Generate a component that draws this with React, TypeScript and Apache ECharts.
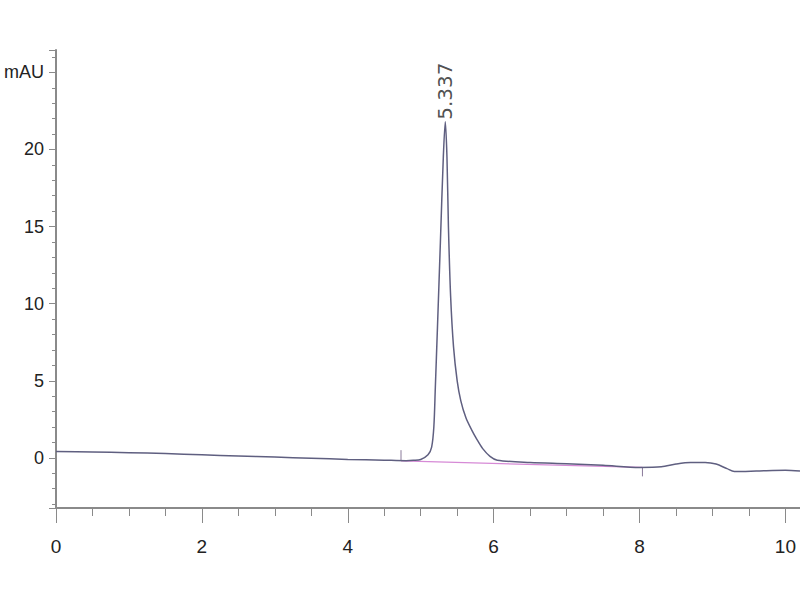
import React, { useEffect, useRef } from "react";
import * as echarts from "echarts";

const retentionTimes = [0, 0.5, 1, 1.5, 2, 2.5, 3, 3.5, 4, 4.5, 4.8, 4.9, 5.0, 5.1, 5.15, 5.18, 5.2, 5.23, 5.27, 5.31, 5.337, 5.36, 5.38, 5.41, 5.45, 5.5, 5.55, 5.62, 5.7, 5.77, 5.85, 5.95, 6.05, 6.5, 7, 7.5, 8, 8.3, 8.5, 8.7, 8.9, 9.05, 9.2, 9.3, 9.6, 10, 10.2];
const absorbance = [0.42, 0.38, 0.34, 0.28, 0.2, 0.12, 0.05, -0.02, -0.1, -0.15, -0.18, -0.16, -0.1, 0.2, 0.7, 2.0, 4.5, 8.5, 14, 19.5, 21.8, 19.5, 15, 10.5, 7.2, 5.0, 3.7, 2.6, 1.8, 1.2, 0.6, 0.1, -0.15, -0.3, -0.38, -0.48, -0.62, -0.58, -0.4, -0.3, -0.3, -0.4, -0.7, -0.88, -0.85, -0.8, -0.85];

const peakTime = 5.337;
const peakHeight = 21.8;
const peakLabel = "5.337";

const integrationStart = [4.73, -0.2];
const integrationEnd = [8.04, -0.62];
const startMarker = [[4.73, 0.5], [4.73, -0.2]];
const endMarker = [[8.04, -0.62], [8.04, -1.2]];

const xTickLabels = ["0", "2", "4", "6", "8", "10"];
const yTickLabels: Record<number, string> = { 0: "0", 5: "5", 10: "10", 15: "15", 20: "20", 25: "mAU" };

export default function App() {
  const ref = useRef<HTMLDivElement>(null);
  useEffect(() => {
    if (!ref.current) return;
    const chart = echarts.init(ref.current, null, { renderer: "svg" });
    const trace = retentionTimes.map((t, i) => [t, absorbance[i]]);
    const axisColor = "#8a8a8a";
    const font = "'Liberation Sans', Arial, sans-serif";
    chart.setOption({
      animation: false,
      backgroundColor: "#ffffff",
      grid: { left: 56, right: 0, top: 50, bottom: 92, containLabel: false, outerBoundsMode: "none" },
      xAxis: {
        type: "value",
        min: 0,
        max: 10.2,
        interval: 2,
        axisLine: { show: true, onZero: false, lineStyle: { color: axisColor, width: 2 } },
        axisTick: { show: true, length: 15, lineStyle: { color: axisColor, width: 1 } },
        minorTick: { show: true, splitNumber: 4, length: 8, lineStyle: { color: axisColor, width: 1 } },
        splitLine: { show: false },
        axisLabel: {
          color: "#222",
          fontFamily: font,
          fontSize: 19,
          margin: 29,
          showMaxLabel: false,
          formatter: (v: number) => {
            const s = String(Math.round(v));
            return xTickLabels.includes(s) && Math.abs(v - Math.round(v)) < 1e-6 ? s : "";
          },
        },
      },
      yAxis: {
        type: "value",
        min: -3.25,
        max: 26.45,
        splitNumber: 6,
        axisLine: { show: true, onZero: false, lineStyle: { color: axisColor, width: 2 } },
        axisTick: { show: true, length: 7, lineStyle: { color: axisColor, width: 1 } },
        minorTick: { show: true, splitNumber: 5, length: 4, lineStyle: { color: axisColor, width: 1 } },
        splitLine: { show: false },
        axisLabel: {
          color: "#222",
          fontFamily: font,
          fontSize: 18,
          margin: 12,
          showMinLabel: false,
          showMaxLabel: false,
          formatter: (v: number) => {
            const r = Math.round(v);
            if (Math.abs(v - r) > 1e-6) return "";
            return yTickLabels[r] ?? "";
          },
        },
      },
      series: [
        {
          type: "line",
          data: [integrationStart, integrationEnd],
          symbol: "none",
          lineStyle: { color: "#d68ad6", width: 1.2 },
          z: 1,
        },
        {
          type: "line",
          data: trace,
          symbol: "none",
          smooth: 0.3,
          lineStyle: { color: "#5f5f80", width: 1.5 },
          z: 3,
        },
        {
          type: "line",
          data: startMarker,
          symbol: "none",
          lineStyle: { color: "#8a7a9a", width: 1 },
          z: 2,
        },
        {
          type: "line",
          data: endMarker,
          symbol: "none",
          lineStyle: { color: "#8a7a9a", width: 1 },
          z: 2,
        },
        {
          type: "scatter",
          data: [[peakTime, peakHeight]],
          symbolSize: 0,
          label: {
            show: true,
            formatter: peakLabel,
            position: "top",
            rotate: 90,
            align: "left",
            verticalAlign: "middle",
            distance: 2,
            color: "#222",
            fontFamily: "'DejaVu Sans', sans-serif",
            fontSize: 20,
          },
          z: 4,
        },
      ],
    });
    return () => chart.dispose();
  }, []);
  return <div ref={ref} style={{ width: 800, height: 600, position: "absolute", left: 0, top: 0 }} />;
}
